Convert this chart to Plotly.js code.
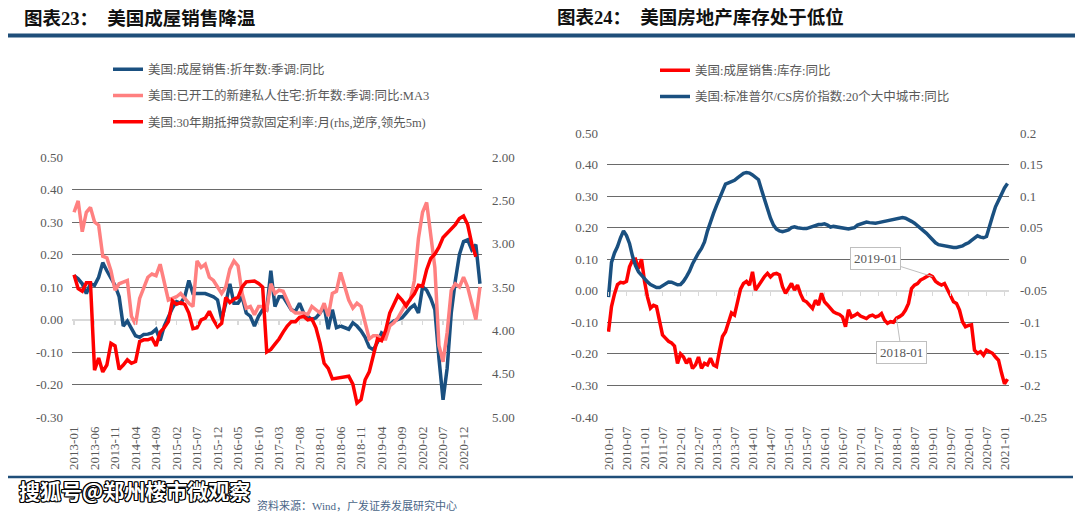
<!DOCTYPE html>
<html><head><meta charset="utf-8">
<script src="https://cdn.plot.ly/plotly-3.0.1.min.js"></script>
<style>html,body{margin:0;padding:0;background:#fff}#chart{width:1080px;height:512px}</style>
</head><body><div id="chart"></div>
<script>
// ---------- DATA ----------
const leftStart = '2013-01';
const salesYoY = [0.135,0.125,0.11,0.08,0.11,0.105,0.13,0.175,0.15,0.13,
 0.105,0.07,-0.02,-0.005,-0.03,-0.05,-0.055,-0.046,-0.045,-0.041,
 -0.03,-0.065,-0.02,0.01,0.035,0.055,0.05,0.07,0.12,0.08,
 0.08,0.08,0.08,0.075,0.07,0.06,0.0,0.05,0.11,0.05,
 0.05,0.07,0.02,0.01,-0.02,0.01,0.03,0.03,0.15,0.04,
 0.07,0.07,0.05,0.03,0.025,0.05,0.02,0.01,0.0,0.005,
 0.02,0.04,-0.03,0.03,-0.025,-0.02,-0.025,-0.03,-0.01,-0.02,
 -0.035,-0.055,-0.085,-0.093,-0.07,-0.041,-0.05,-0.015,-0.005,0.0,
 0.005,0.02,0.035,0.045,0.02,0.10,0.09,0.065,0.03,-0.12,
 -0.247,-0.15,0.02,0.12,0.2,0.24,0.245,0.215,0.23,0.11];
const startsYoY = [0.33,0.365,0.27,0.33,0.345,0.30,0.29,0.195,0.19,0.15,
 0.09,0.11,0.115,0.12,0.01,-0.015,0.065,0.10,0.13,0.14,
 0.135,0.17,0.12,0.06,0.065,0.07,0.08,0.065,0.05,0.04,
 0.18,0.16,0.17,0.13,0.12,0.10,0.08,0.10,0.155,0.18,
 0.165,0.08,0.035,0.04,0.015,0.04,0.04,0.03,0.11,0.08,
 0.09,0.087,0.06,0.03,0.02,0.02,0.02,0.015,0.04,0.03,
 0.02,0.05,0.01,0.08,0.087,0.145,0.10,0.06,0.035,0.05,
 0.04,-0.01,-0.06,-0.05,-0.05,-0.06,-0.06,-0.02,-0.01,0.005,
 0.03,0.05,0.06,0.12,0.25,0.33,0.36,0.26,0.16,-0.08,
 -0.13,-0.04,0.09,0.11,0.10,0.13,0.10,0.05,0.0,0.10];
const mortgageRate = [3.36,3.52,3.55,3.45,3.45,4.46,4.32,4.48,4.40,4.15,
 4.18,4.45,4.40,4.34,4.38,4.36,4.13,4.11,4.11,4.09,
 4.18,4.02,3.97,3.90,3.66,3.70,3.68,3.70,3.80,3.98,
 3.97,3.88,3.86,3.78,3.88,3.96,3.92,3.62,3.68,3.64,
 3.62,3.50,3.44,3.43,3.43,3.46,3.50,4.25,4.22,4.16,
 4.10,4.02,3.95,3.90,3.90,3.85,3.84,3.88,3.87,3.97,
 4.15,4.38,4.44,4.56,4.55,4.55,4.54,4.53,4.62,4.84,
 4.80,4.57,4.48,4.30,4.10,4.12,4.00,3.80,3.70,3.60,
 3.65,3.72,3.64,3.58,3.48,3.49,3.30,3.17,3.12,3.04,
 2.93,2.88,2.83,2.78,2.71,2.68,2.78,3.00,3.15];
const leftTickLabels = ['2013-01','2013-06','2013-11','2014-04','2014-09','2015-02','2015-07','2015-12','2016-05','2016-10',
 '2017-03','2017-08','2018-01','2018-06','2018-11','2019-04','2019-09','2020-02','2020-07','2020-12'];
const leftYVals = [-0.3,-0.2,-0.1,0,0.1,0.2,0.3,0.4,0.5];
const leftYText = ['-0.30','-0.20','-0.10','0.00','0.10','0.20','0.30','0.40','0.50'];
const rateVals = [2,2.5,3,3.5,4,4.5,5];
const rateText = ['2.00','2.50','3.00','3.50','4.00','4.50','5.00'];

const rightStart = '2010-01';
const inventoryYoY = [-0.13,-0.05,-0.01,0.02,0.027,0.025,0.03,0.076,0.097,0.10,
 0.07,0.10,0.03,-0.02,-0.055,-0.046,-0.05,-0.1,-0.14,-0.15,
 -0.16,-0.165,-0.175,-0.23,-0.2,-0.21,-0.23,-0.214,-0.246,-0.235,
 -0.21,-0.246,-0.23,-0.235,-0.214,-0.235,-0.24,-0.19,-0.145,-0.13,
 -0.1,-0.07,-0.077,-0.03,0.005,0.023,0.03,0.018,0.06,0.002,
 0.018,0.03,0.045,0.055,0.044,0.053,0.055,0.05,0.013,-0.008,
 0.01,0.023,0.002,0.018,-0.01,-0.03,-0.035,-0.045,-0.056,-0.03,
 -0.045,-0.008,-0.035,-0.045,-0.056,-0.067,-0.072,-0.075,-0.083,-0.114,
 -0.06,-0.083,-0.078,-0.072,-0.08,-0.083,-0.088,-0.08,-0.077,-0.083,
 -0.08,-0.072,-0.093,-0.103,-0.098,-0.1,-0.087,-0.082,-0.075,-0.061,
 -0.04,0.007,0.018,0.023,0.034,0.039,0.044,0.05,0.045,0.03,
 0.023,0.018,0.023,0.002,-0.02,-0.035,-0.04,-0.061,-0.098,-0.114,
 -0.11,-0.108,-0.188,-0.198,-0.193,-0.204,-0.188,-0.193,-0.198,-0.21,
 -0.22,-0.26,-0.295,-0.28];
const csIndexYoY = [-0.06,-0.005,0.01,0.02,0.034,0.045,0.0375,0.025,0.005,-0.01,
 -0.02,-0.026,-0.032,-0.036,-0.04,-0.043,-0.045,-0.045,-0.042,-0.039,
 -0.036,-0.0365,-0.0385,-0.0405,-0.04,-0.035,-0.0275,-0.019,-0.0075,0.0025,
 0.01,0.017,0.0275,0.045,0.06,0.0725,0.085,0.0975,0.11,0.119,
 0.121,0.123,0.125,0.129,0.133,0.136,0.1375,0.1365,0.1335,0.13,
 0.126,0.11,0.095,0.078,0.065,0.054,0.0475,0.045,0.0435,0.045,
 0.0465,0.05,0.0515,0.05,0.049,0.0485,0.0485,0.05,0.051,0.053,
 0.055,0.055,0.056,0.054,0.051,0.052,0.051,0.05,0.049,0.048,
 0.048,0.049,0.05,0.054,0.056,0.058,0.059,0.058,0.057,0.057,
 0.058,0.059,0.061,0.062,0.062,0.063,0.065,0.066,0.066,0.065,
 0.063,0.06,0.057,0.053,0.05,0.046,0.041,0.036,0.03,0.026,
 0.023,0.022,0.021,0.02,0.019,0.0185,0.0185,0.02,0.021,0.024,
 0.026,0.03,0.034,0.037,0.035,0.034,0.036,0.05,0.068,0.083,
 0.094,0.105,0.113,0.12];
const rightTickLabels = ['2010-01','2010-07','2011-01','2011-07','2012-01','2012-07','2013-01','2013-07','2014-01','2014-07',
 '2015-01','2015-07','2016-01','2016-07','2017-01','2017-07','2018-01','2018-07','2019-01','2019-07',
 '2020-01','2020-07','2021-01'];
const rightYVals = [-0.4,-0.3,-0.2,-0.1,0,0.1,0.2,0.3,0.4,0.5];
const rightYText = ['-0.40','-0.30','-0.20','-0.10','0.00','0.10','0.20','0.30','0.40','0.50'];
const csVals = [-0.25,-0.2,-0.15,-0.1,-0.05,0,0.05,0.1,0.15,0.2];
const csText = ['-0.25','-0.2','-0.15','-0.1','-0.05','0','0.05','0.1','0.15','0.2'];
const calloutLabels = ['2019-01','2018-01'];

// ---------- HELPERS ----------
function monthSeq(start, n){
  const [y0,m0] = start.split('-').map(Number); const out=[];
  for(let i=0;i<n;i++){const t=(m0-1)+i; const y=y0+Math.floor(t/12); const m=t%12+1; out.push(y+'-'+String(m).padStart(2,'0'));}
  return out;
}
const leftCats = monthSeq(leftStart, salesYoY.length);
const rightCats = monthSeq(rightStart, inventoryYoY.length);

const W=1080, H=512;
const px = v => v/W, py = v => 1 - v/H;
const FONT = '"Liberation Serif", "Noto Sans CJK SC", serif';
const GREY = '#595959';
const NAVY = '#1f4e79';
const tickFont = {family:FONT, size:13, color:GREY};
const GRID = '#6a6a6a';

const traces = [
  {x:leftCats, y:salesYoY, name:'美国:成屋销售:折年数:季调:同比', type:'scatter', mode:'lines',
   line:{color:'#1a5080', width:3.5}, xaxis:'x', yaxis:'y', legend:'legend', legendgroup:'a'},
  {x:leftCats, y:startsYoY, name:'美国:已开工的新建私人住宅:折年数:季调:同比:MA3', type:'scatter', mode:'lines',
   line:{color:'#ff8080', width:3.5}, xaxis:'x', yaxis:'y', legend:'legend', legendgroup:'b'},
  {x:leftCats.slice(0, mortgageRate.length), y:mortgageRate, name:'美国:30年期抵押贷款固定利率:月(rhs,逆序,领先5m)', type:'scatter', mode:'lines',
   line:{color:'#ff0000', width:3.5}, xaxis:'x', yaxis:'y2', legend:'legend', legendgroup:'c'},
  {x:rightCats, y:inventoryYoY, name:'美国:成屋销售:库存:同比', type:'scatter', mode:'lines',
   line:{color:'#ff0000', width:3.5}, xaxis:'x2', yaxis:'y3', legend:'legend2', legendgroup:'d'},
  {x:rightCats, y:csIndexYoY, name:'美国:标准普尔/CS房价指数:20个大中城市:同比', type:'scatter', mode:'lines',
   line:{color:'#1a5080', width:3.5}, xaxis:'x2', yaxis:'y4', legend:'legend2', legendgroup:'e'},
  // empty traces that carry the zero-line tick axes
  {x:[], y:[], xaxis:'x3', yaxis:'y', showlegend:false, hoverinfo:'skip'},
  {x:[], y:[], xaxis:'x4', yaxis:'y3', showlegend:false, hoverinfo:'skip'}
];

const leftTickIdx = leftTickLabels.map(l => leftCats.indexOf(l));
const rightTickIdx = rightTickLabels.map(l => rightCats.indexOf(l));

const legendCommon = {font:{family:FONT, size:12.5, color:GREY}, bgcolor:'rgba(0,0,0,0)', borderwidth:0,
  xanchor:'left', yanchor:'top', tracegroupgap:7, orientation:'v'};

function annotFor(label, dx, dy){
  const i = rightCats.indexOf(label);
  return {x:label, y:inventoryYoY[i], xref:'x2', yref:'y3', text:label, showarrow:true, arrowhead:0,
    arrowcolor:'#bfbfbf', arrowwidth:1, ax:dx, ay:dy, bgcolor:'#ffffff', bordercolor:'#bfbfbf', borderwidth:1,
    borderpad:3, font:{family:FONT, size:13, color:GREY}};
}

const layout = {
  width:W, height:H, margin:{l:0,r:0,t:0,b:0}, paper_bgcolor:'#ffffff', plot_bgcolor:'rgba(0,0,0,0)',
  showlegend:true,
  xaxis:{type:'category', domain:[px(72),px(482)], anchor:'y', range:[-0.5, leftCats.length-0.5],
    tickmode:'array', tickvals:leftTickLabels, ticktext:leftTickLabels, tickangle:-90, ticks:'',
    showgrid:false, zeroline:false, showline:false, tickfont:tickFont, ticklabelstandoff:6},
  yaxis:{domain:[py(417),py(157)], anchor:'x', range:[-0.3,0.5], tickmode:'array', tickvals:leftYVals, ticktext:leftYText,
    showgrid:true, gridcolor:GRID, gridwidth:1, zeroline:true, zerolinecolor:'#d9d9d9', zerolinewidth:2,
    ticks:'', showline:false, tickfont:tickFont, ticklabelstandoff:8},
  yaxis2:{overlaying:'y', side:'right', anchor:'x', range:[5,2], tickmode:'array', tickvals:rateVals, ticktext:rateText,
    showgrid:false, zeroline:false, ticks:'', showline:false, tickfont:tickFont, ticklabelstandoff:9},
  xaxis3:{overlaying:'x', anchor:'free', position:py(319.5), type:'linear', range:[-0.5, leftCats.length-0.5],
    tickmode:'array', tickvals:leftTickIdx, ticks:'outside', ticklen:4, tickwidth:1.5, tickcolor:'#d9d9d9',
    showticklabels:false, showgrid:false, zeroline:false, showline:false},
  xaxis2:{type:'category', domain:[px(607),px(1009)], anchor:'y3', range:[-0.5, rightCats.length-0.5],
    tickmode:'array', tickvals:rightTickLabels, ticktext:rightTickLabels, tickangle:-90, ticks:'',
    showgrid:false, zeroline:false, showline:false, tickfont:tickFont, ticklabelstandoff:6},
  yaxis3:{domain:[py(417),py(133)], anchor:'x2', range:[-0.4,0.5], tickmode:'array', tickvals:rightYVals, ticktext:rightYText,
    showgrid:true, gridcolor:GRID, gridwidth:1, zeroline:true, zerolinecolor:'#d9d9d9', zerolinewidth:2,
    ticks:'', showline:false, tickfont:tickFont, ticklabelstandoff:8},
  yaxis4:{overlaying:'y3', side:'right', anchor:'x2', range:[-0.25,0.2], tickmode:'array', tickvals:csVals, ticktext:csText,
    showgrid:false, zeroline:false, ticks:'', showline:false, tickfont:tickFont, ticklabelstandoff:10},
  xaxis4:{overlaying:'x2', anchor:'free', position:py(290.8), type:'linear', range:[-0.5, rightCats.length-0.5],
    tickmode:'array', tickvals:rightTickIdx, ticks:'outside', ticklen:4, tickwidth:1.5, tickcolor:'#d9d9d9',
    showticklabels:false, showgrid:false, zeroline:false, showline:false},
  legend:Object.assign({x:px(108), y:py(54.5)}, legendCommon),
  legend2:Object.assign({x:px(655), y:py(55.5)}, legendCommon),
  shapes:[
    {type:'line', xref:'paper', yref:'paper', x0:px(8), x1:px(1075), y0:py(35.5), y1:py(35.5), line:{color:NAVY, width:4}},
    {type:'line', xref:'paper', yref:'paper', x0:px(8), x1:px(1073), y0:py(477), y1:py(477), line:{color:NAVY, width:2.5}}
  ],
  annotations:[
    {xref:'paper', yref:'paper', x:px(22), y:py(18.5), xanchor:'left', yanchor:'middle', showarrow:false,
     text:'<b>图表23：\u00a0\u00a0美国成屋销售降温</b>', font:{family:FONT, size:18.5, color:'#111111'}},
    {xref:'paper', yref:'paper', x:px(555), y:py(17.5), xanchor:'left', yanchor:'middle', showarrow:false,
     text:'<b>图表24：\u00a0\u00a0美国房地产库存处于低位</b>', font:{family:FONT, size:18.5, color:'#111111'}},
    annotFor(calloutLabels[0], -57, -18),
    annotFor(calloutLabels[1], 5, 34),
    {xref:'paper', yref:'paper', x:px(255), y:py(505), xanchor:'left', yanchor:'middle', showarrow:false,
     text:'资料来源：Wind，广发证券发展研究中心', font:{family:FONT, size:11, color:'#4a6688'}},
    {xref:'paper', yref:'paper', x:px(17), y:py(490), xanchor:'left', yanchor:'middle', showarrow:false,
     text:'<b>搜狐号@郑州楼市微观察</b>',
     font:{family:'"Noto Sans CJK SC", sans-serif', size:21, color:'#ffffff',
       shadow:'1px 1px 0 #000, -1px -1px 0 #000, 1px -1px 0 #000, -1px 1px 0 #000, 0 1px 0 #000, 0 -1px 0 #000, 1px 0 0 #000, -1px 0 0 #000'}}
  ]
};

Plotly.newPlot('chart', traces, layout, {staticPlot:true, displayModeBar:false});
</script>
</body></html>
